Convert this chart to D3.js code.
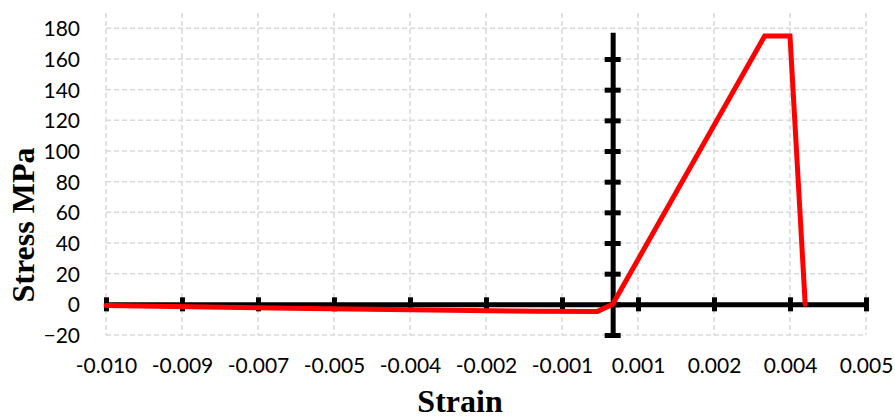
<!DOCTYPE html>
<html>
<head>
<meta charset="utf-8">
<script src="https://cdn.jsdelivr.net/npm/d3@7/dist/d3.min.js"></script>
<style>
  html, body { margin: 0; padding: 0; background: #fff; }
  svg { display: block; }
</style>
</head>
<body>
<svg id="chart" width="895" height="418"></svg>
<script>
// ---- data ----
const strain = [-0.010, -0.008, -0.006, -0.004, -0.002, -0.0015, -0.0003, 0.0, 0.0030, 0.0035, 0.0038];
const stress = [-0.8, -1.7, -2.7, -3.6, -4.4, -4.5, -4.6, 0, 175, 175, 0];
const xTickValues = [-0.010, -0.0085, -0.007, -0.0055, -0.004, -0.0025, -0.001, 0.0005, 0.002, 0.0035, 0.005];
const xTickLabels = ["-0.010", "-0.009", "-0.007", "-0.005", "-0.004", "-0.002", "-0.001", "0.001", "0.002", "0.004", "0.005"];
const yTickValues = [-20, 0, 20, 40, 60, 80, 100, 120, 140, 160, 180];
const yAxisTickValues = [-20, 0, 20, 40, 60, 80, 100, 120, 140, 160];
const xTitle = "Strain";
const yTitle = "Stress MPa";

// ---- scales ----
const svg = d3.select("#chart");
const x = d3.scaleLinear().domain([-0.010, 0.005]).range([106, 866]);
const y = d3.scaleLinear().domain([-20, 190]).range([335, 13]);

const labelFont = "Lato, 'Open Sans', sans-serif";
const titleFont = "'Liberation Serif', 'Times New Roman', serif";

// ---- gridlines ----
const grid = svg.append("g").attr("stroke", "#d9d9d9").attr("stroke-width", 1.5).attr("stroke-dasharray", "5,3");
grid.selectAll("line.h").data(yTickValues).join("line")
  .attr("x1", x.range()[0]).attr("x2", x.range()[1])
  .attr("y1", d => y(d)).attr("y2", d => y(d));
grid.selectAll("line.v").data(xTickValues).join("line")
  .attr("y1", y.range()[1]).attr("y2", y.range()[0])
  .attr("x1", d => x(d)).attr("x2", d => x(d));

// ---- x axis (at stress = 0) ----
const xAxis = d3.axisBottom(x).tickValues(xTickValues).tickSize(14).tickSizeOuter(0).tickFormat("");
const gx = svg.append("g").attr("transform", `translate(0,${y(0)})`).call(xAxis);
gx.select(".domain").attr("stroke", "#000").attr("stroke-width", 5);
gx.selectAll(".tick line").attr("stroke", "#000").attr("stroke-width", 5).attr("y1", -7).attr("y2", 7);

// ---- y axis (at strain = 0) ----
const yAxisScale = y.copy().domain([-20, 177.5]).range([y(-20), y(177.5)]);
const yAxis = d3.axisLeft(yAxisScale).tickValues(yAxisTickValues).tickSize(16).tickSizeOuter(0).tickFormat("");
const gy = svg.append("g").attr("transform", `translate(${x(0)},0)`).call(yAxis);
gy.select(".domain").attr("stroke", "#000").attr("stroke-width", 5);
gy.selectAll(".tick line").attr("stroke", "#000").attr("stroke-width", 5).attr("x1", -8).attr("x2", 8);

// ---- tick labels ----
const yLab = svg.append("g").attr("transform", "translate(80,0)")
  .call(d3.axisLeft(y).tickValues(yTickValues).tickSize(0).tickPadding(0).tickFormat(d3.format("d")));
yLab.select(".domain").remove();
yLab.selectAll("text").attr("font-family", labelFont).attr("font-size", 21).attr("fill", "#000")
  .attr("dy", "0.36em").attr("x", 0);

const xLab = svg.append("g").attr("transform", "translate(0,373)")
  .call(d3.axisBottom(x).tickValues(xTickValues).tickSize(0).tickPadding(0).tickFormat((d, i) => xTickLabels[i]));
xLab.select(".domain").remove();
xLab.selectAll("text").attr("font-family", labelFont).attr("font-size", 21).attr("fill", "#000")
  .attr("y", 0).attr("dy", 0);

// ---- series line ----
const pts = strain.map((s, i) => [s, stress[i]]);
svg.append("path").datum(pts)
  .attr("fill", "none").attr("stroke", "#ff0000").attr("stroke-width", 5)
  .attr("stroke-linejoin", "miter").attr("stroke-linecap", "round")
  .attr("d", d3.line().x(d => x(d[0])).y(d => y(d[1])));

// ---- titles ----
svg.append("text").attr("x", 460).attr("y", 412).attr("text-anchor", "middle")
  .attr("font-family", titleFont).attr("font-weight", "bold").attr("font-size", 32).text(xTitle);
svg.append("text").attr("transform", "translate(34,225) rotate(-90)").attr("text-anchor", "middle")
  .attr("font-family", titleFont).attr("font-weight", "bold").attr("font-size", 32).text(yTitle);
</script>
</body>
</html>
